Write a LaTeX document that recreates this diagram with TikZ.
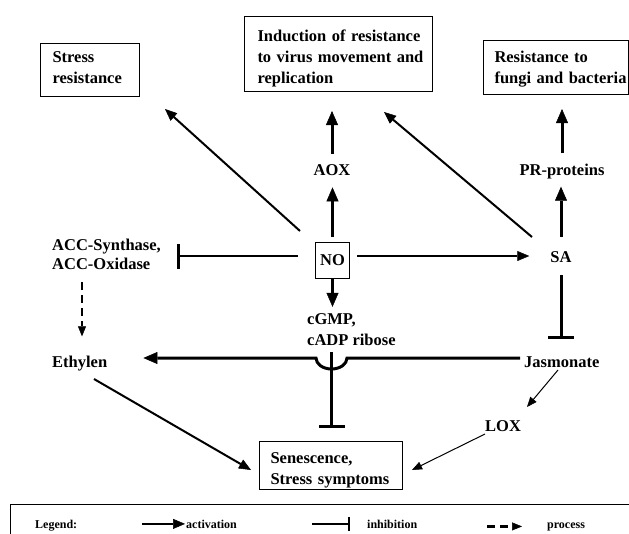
\documentclass[tikz,border=0pt]{standalone}
\usepackage{fontspec}
\setmainfont{Liberation Serif}
\usetikzlibrary{arrows.meta}
\tikzset{every node/.style={font=\fontsize{16.5}{21}\selectfont\bfseries,inner sep=0pt}}
\tikzset{res box/.style={draw,line width=1pt,align=left,anchor=north west,
    execute at begin node={\hyphenpenalty=10000\relax}}}
\tikzset{act/.style={line width=3pt,-{Triangle[length=14pt,width=12pt,line width=.5pt]}}}
\tikzset{act mid/.style={line width=2pt,-{Triangle[length=12pt,width=10pt,line width=.5pt]}}}
\tikzset{act thin/.style={line width=1pt,-{Triangle[length=10pt,width=8pt,line width=.5pt]}}}
\tikzset{inh/.style={line width=3pt,-{Bar[width=26pt]}}}
\tikzset{inh thin/.style={line width=1.3pt,-{Bar[width=25pt,line width=3pt]}}}
\tikzset{proc/.style={line width=2.3pt,dash pattern=on 8pt off 5pt,-{Triangle[length=10pt,width=8pt,line width=.5pt]}}}
\tikzset{legend/.style={font=\fontsize{12}{14}\selectfont\bfseries,anchor=base west}}

\begin{document}
\begin{tikzpicture}[x=1pt,y=-1pt]
  \useasboundingbox (0,0) rectangle (629,533);
  % outcome boxes
  \node[res box,text width=75pt,inner xsep=12pt,text height=19pt,text depth=34pt] (stress) at (40,43) {Stress\\resistance};
  \node[res box,text width=162pt,inner xsep=13pt,text height=25pt,text depth=50pt] (ind) at (244,16) {Induction~of~resistance\\to~virus~movement~and\\replication};
  \node[res box,text width=123pt,inner xsep=11pt,text height=22pt,text depth=32pt] (fungi) at (483,40) {Resistance to\\fungi~and~bacteria};
  \node[res box,text width=121pt,inner xsep=11pt,text height=22pt,text depth=26pt] (sen) at (259,441) {Senescence,\\Stress~symptoms};
  \node[draw,line width=1pt,minimum width=34pt,minimum height=36pt] (no) at (332.5,260) {NO};
  % signals (two-line ones sit on their last baseline)
  \node[anchor=base] (aox) at (332,175) {AOX};
  \node[anchor=base] (pr) at (562,175) {PR-proteins};
  \node[anchor=base] (sa) at (561,262) {SA};
  \node[anchor=base west,align=left,font=\fontsize{16.5}{19}\selectfont\bfseries] (acc) at (52,269) {ACC-Synthase,\\ACC-Oxidase};
  \node[anchor=base west] (eth) at (52,367) {Ethylen};
  \node[anchor=base west,align=left] (cgmp) at (307,345) {cGMP,\\cADP ribose};
  \node[anchor=base west] (jas) at (524,367) {Jasmonate};
  \node[anchor=base west] (lox) at (485,431) {LOX};
  \coordinate (jump) at (331.5,358);
  % free ends of the slanted arrows
  \coordinate (no-st) at (300,231);
  \coordinate (st-tip) at (165,109);
  \coordinate (sa-ind) at (532,237);
  \coordinate (ind-tip) at (384,112);
  \coordinate (eth-sen) at (94,379);
  \coordinate (sen-tip1) at (251,470);
  \coordinate (jas-lox) at (558,370);
  \coordinate (lox-tip) at (527,407);
  \coordinate (lox-sen) at (485,434);
  \coordinate (sen-tip2) at (412,470);

  \draw[act,shorten <=5pt,shorten >=12pt] (no.north) -- (no.north |- aox.south);
  \draw[act,shorten <=10pt,shorten >=19pt] (aox.north) -- (aox.north |- ind.south);
  \draw[act,shorten <=14pt,shorten >=8pt] (sa.north) -- (sa.north |- pr.south);
  \draw[act,shorten <=10pt,shorten >=14pt] (pr.north) -- (pr.north |- fungi.south);
  \draw[act mid] (no-st) -- (st-tip);
  \draw[act mid] (sa-ind) -- (ind-tip);
  \draw[act mid,shorten <=7pt,shorten >=21pt] ([yshift=4pt]no.east) -- ([yshift=4pt]no.east -| sa.west);
  \draw[inh thin,shorten <=17pt,shorten >=16pt] ([yshift=4pt]no.west) -- ([yshift=4pt]no.west -| acc.east);
  \draw[proc,shorten <=13pt,shorten >=19pt] ([xshift=30pt]acc.south west) -- ([xshift=30pt]acc.south west |- eth.north);
  \draw[act,shorten <=0pt,shorten >=6pt] (no.south) -- (no.south |- cgmp.north);
  \draw[act,shorten <=4pt,shorten >=36pt] (jas.west |- jump) -- ([xshift=15.5pt]jump)
    arc[start angle=0,end angle=-180,x radius=15.5pt,y radius=11pt] -- (eth.east |- jump);
  \draw[inh,shorten <=7pt,shorten >=13pt] (cgmp.south -| jump) -- (jump |- sen.north);
  \draw[inh,shorten <=13pt,shorten >=17pt] (sa.south) -- (sa.south |- jas.north);
  \draw[act mid] (eth-sen) -- (sen-tip1);
  \draw[act thin] (jas-lox) -- (lox-tip);
  \draw[act thin] (lox-sen) -- (sen-tip2);

  % legend
  \draw[line width=1pt] (10,545) |- (640,504);
  \node[legend] (lg) at (35,528) {Legend:};
  \node[legend] (lact) at (186,528) {activation};
  \node[legend] (linh) at (367,528) {inhibition};
  \node[legend] (lproc) at (547,528) {process};
  \draw[act mid,shorten >=1pt] (lact.west) ++(-44,0) -- (lact.west);
  \draw[line width=2.5pt,-{Bar[width=14pt]},shorten >=17pt] (linh.west) ++(-55,0) -- (linh.west);
  \draw[proc,shorten >=25pt] (lproc.west) ++(-60,0) -- (lproc.west);
\end{tikzpicture}
\end{document}
